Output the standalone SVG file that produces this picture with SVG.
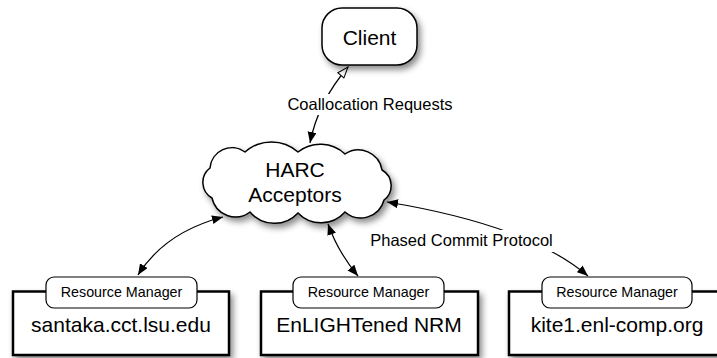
<svg xmlns="http://www.w3.org/2000/svg" width="717" height="358" viewBox="0 0 717 358">
  <style>
    .shape { fill: #ffffff; stroke: #000000; stroke-width: 1.5; }
    .box { fill: #ffffff; stroke: #000000; stroke-width: 2.5; }
    .tab { fill: #ffffff; stroke: #000000; stroke-width: 1.2; }
    .conn { fill: none; stroke: #000000; stroke-width: 1.2; }
    text { font-family: "Liberation Sans", Arial, Helvetica, sans-serif; fill: #000000; text-anchor: middle; }
    .big { font-size: 21px; }
    .lbl { font-size: 16.5px; }
    .tabt { font-size: 14.3px; }
  </style>
  <defs>
    <filter id="shadow" x="-20%" y="-20%" width="140%" height="150%">
      <feDropShadow dx="3" dy="4" stdDeviation="3" flood-color="#000000" flood-opacity="0.45"/>
    </filter>
    <marker id="arrF" markerUnits="userSpaceOnUse" markerWidth="12" markerHeight="10" refX="11" refY="4.5" orient="auto-start-reverse">
      <path d="M0,0 L11,4.5 L0,9 Z" fill="#000000"/>
    </marker>
    <marker id="arrO" markerUnits="userSpaceOnUse" markerWidth="14" markerHeight="12" refX="12" refY="5" orient="auto-start-reverse">
      <path d="M1,1 L12,5 L1,9 Z" fill="#ffffff" stroke="#000000" stroke-width="1"/>
    </marker>
  </defs>

  <g id="connectors">
    <path id="c-client" class="conn" d="M348,67 Q318,102 310,143" marker-start="url(#arrO)" marker-end="url(#arrF)"/>
    <path id="c-santaka" class="conn" d="M223,217 Q165,232 138,275" marker-start="url(#arrF)" marker-end="url(#arrF)"/>
    <path id="c-nrm" class="conn" d="M328,224 Q338,252 358,276" marker-start="url(#arrF)" marker-end="url(#arrF)"/>
    <path id="c-kite" class="conn" d="M387,202 C460,214 540,235 588,276" marker-start="url(#arrF)" marker-end="url(#arrF)"/>
    <g id="label-coalloc">
      <rect x="284" y="94" width="172" height="21" fill="#ffffff"/>
      <text class="lbl" x="370" y="110">Coallocation Requests</text>
    </g>
    <g id="label-phased">
      <rect x="367" y="230" width="189" height="22" fill="#ffffff"/>
      <text class="lbl" x="461.5" y="246">Phased Commit Protocol</text>
    </g>
  </g>

  <g id="client">
    <rect class="shape" x="322" y="8" width="95" height="57" rx="20" ry="20" filter="url(#shadow)"/>
    <text class="big" x="369.5" y="45">Client</text>
  </g>

  <g id="harc">
    <path class="shape" filter="url(#shadow)" d="M210,168 A22,22 0 0 1 245,152 A40,40 0 0 1 298,152 A36,36 0 0 1 345,154 A24,24 0 0 1 382,170 A18,18 0 0 1 384,200 A24,24 0 0 1 345,212 A32,32 0 0 1 298,213 A32,32 0 0 1 250,212 A24,24 0 0 1 212,198 A18,18 0 0 1 210,168 Z"/>
    <text class="big" x="295" y="177">HARC</text>
    <text class="big" x="295" y="202">Acceptors</text>
  </g>

  <g id="santaka">
    <rect class="box" x="13" y="291.5" width="216" height="63.5" filter="url(#shadow)"/>
    <rect class="tab" x="46" y="277" width="151" height="31" rx="8" ry="8"/>
    <text class="tabt" x="121.5" y="297">Resource Manager</text>
    <text class="big" x="121" y="332">santaka.cct.lsu.edu</text>
  </g>

  <g id="nrm">
    <rect class="box" x="261" y="291.5" width="217" height="63.5" filter="url(#shadow)"/>
    <rect class="tab" x="293" y="277" width="151" height="31" rx="8" ry="8"/>
    <text class="tabt" x="368.5" y="297">Resource Manager</text>
    <text class="big" x="369" y="332">EnLIGHTened NRM</text>
  </g>

  <g id="kite">
    <rect class="box" x="509" y="291.5" width="216" height="63.5" filter="url(#shadow)"/>
    <rect class="tab" x="542" y="277" width="150" height="31" rx="8" ry="8"/>
    <text class="tabt" x="617" y="297">Resource Manager</text>
    <text class="big" x="617" y="332">kite1.enl-comp.org</text>
  </g>
</svg>
